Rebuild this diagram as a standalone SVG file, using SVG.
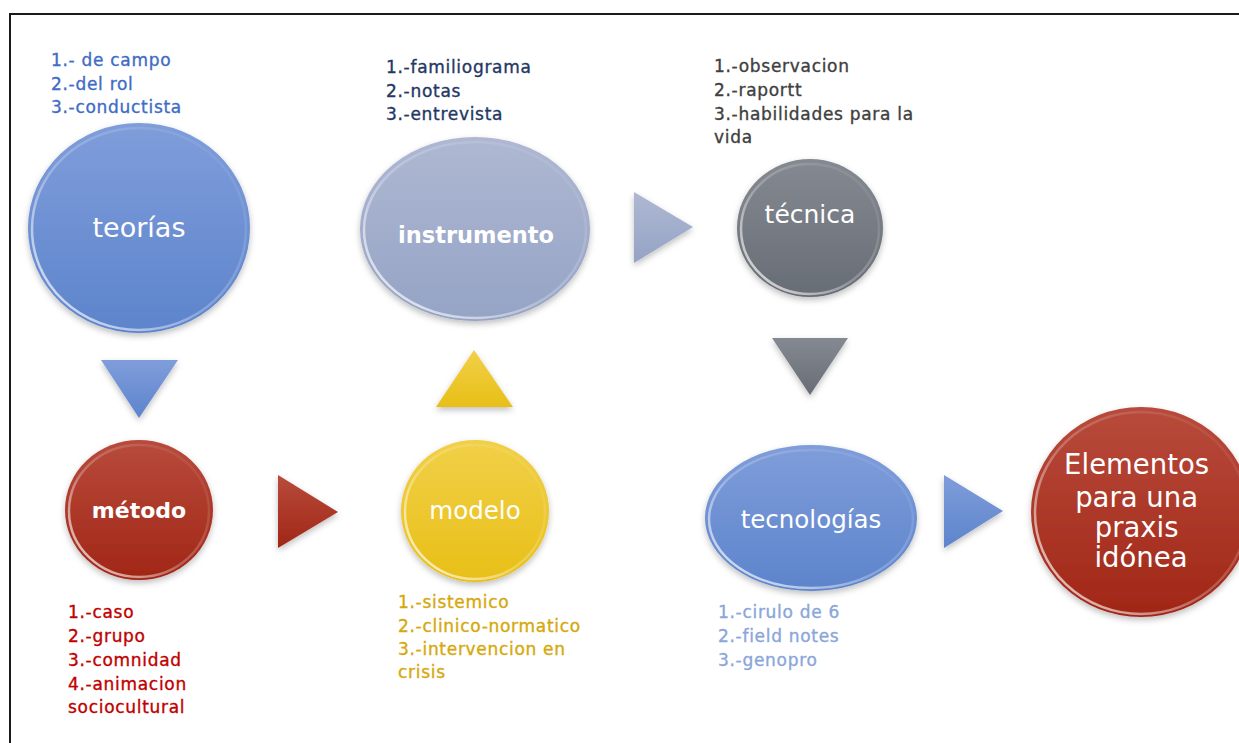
<svg xmlns="http://www.w3.org/2000/svg" width="1239" height="743" viewBox="0 0 1239 743">
<style>
  .lbl { font-family: "DejaVu Sans", Verdana, sans-serif; font-size: 17px; letter-spacing: 0.7px; stroke-width: 0.35px; }
  .node-txt { font-family: "DejaVu Sans", Verdana, sans-serif; fill: #ffffff; text-anchor: middle; }
  .shine { fill: none; stroke: url(#gShine); stroke-width: 2.5; }
  .blue-l { fill: #3F6CC4; stroke: #3F6CC4; }
  .navy-l { fill: #1F3864; stroke: #1F3864; }
  .gray-l { fill: #404040; stroke: #404040; }
  .red-l { fill: #C00000; stroke: #C00000; }
  .gold-l { fill: #D6A80C; stroke: #D6A80C; }
  .lblue-l { fill: #8AA6DA; stroke: #8AA6DA; }
</style>
<defs>
  <linearGradient id="gBlue" x1="0" y1="0" x2="0" y2="1">
    <stop offset="0" stop-color="#7F9DDA"/>
    <stop offset="1" stop-color="#5D84CC"/>
  </linearGradient>
  <linearGradient id="gSlate" x1="0" y1="0" x2="0" y2="1">
    <stop offset="0" stop-color="#AEB8D2"/>
    <stop offset="1" stop-color="#95A3C5"/>
  </linearGradient>
  <linearGradient id="gGray" x1="0" y1="0" x2="0" y2="1">
    <stop offset="0" stop-color="#858A92"/>
    <stop offset="1" stop-color="#676C75"/>
  </linearGradient>
  <linearGradient id="gRed" x1="0" y1="0" x2="0" y2="1">
    <stop offset="0" stop-color="#B84B3C"/>
    <stop offset="1" stop-color="#A12616"/>
  </linearGradient>
  <linearGradient id="gGold" x1="0" y1="0" x2="0" y2="1">
    <stop offset="0" stop-color="#F1D048"/>
    <stop offset="1" stop-color="#E8BF17"/>
  </linearGradient>
  <linearGradient id="gShine" x1="0" y1="1" x2="1" y2="0">
    <stop offset="0" stop-color="#ffffff" stop-opacity="0.85"/>
    <stop offset="0.45" stop-color="#ffffff" stop-opacity="0.25"/>
    <stop offset="1" stop-color="#ffffff" stop-opacity="0"/>
  </linearGradient>
  <filter id="shadow" x="-20%" y="-20%" width="140%" height="140%">
    <feDropShadow dx="0" dy="3" stdDeviation="3" flood-color="#000000" flood-opacity="0.25"/>
  </filter>
</defs>

<rect x="10" y="14" width="1260" height="760" fill="none" stroke="#1a1a1a" stroke-width="2"/>

<g id="connectors" filter="url(#shadow)">
  <polygon points="101,360 178,360 139,418" fill="url(#gBlue)"/>
  <polygon points="278,475 278,548 338,512" fill="url(#gRed)"/>
  <polygon points="474,350 513,407 436,407" fill="url(#gGold)"/>
  <polygon points="634,192 634,263 693,227" fill="url(#gSlate)"/>
  <polygon points="772,338 848,338 810,395" fill="url(#gGray)"/>
  <polygon points="944,475 944,548 1003,511" fill="url(#gBlue)"/>
</g>

<g id="teorias">
  <text class="lbl blue-l" x="51" y="66">1.- de campo</text>
  <text class="lbl blue-l" x="51" y="90">2.-del rol</text>
  <text class="lbl blue-l" x="51" y="113">3.-conductista</text>
  <ellipse cx="139" cy="228" rx="111" ry="105" fill="url(#gBlue)" filter="url(#shadow)"/>
  <ellipse class="shine" cx="139" cy="229" rx="107" ry="101"/>
  <text class="node-txt" x="139" y="237" font-size="27">teorías</text>
</g>

<g id="instrumento">
  <text class="lbl navy-l" x="386" y="73">1.-familiograma</text>
  <text class="lbl navy-l" x="386" y="97">2.-notas</text>
  <text class="lbl navy-l" x="386" y="120">3.-entrevista</text>
  <ellipse cx="475" cy="229" rx="115" ry="92" fill="url(#gSlate)" filter="url(#shadow)"/>
  <ellipse class="shine" cx="475" cy="230" rx="111" ry="88"/>
  <text class="node-txt" x="476" y="243" font-size="22.5" font-weight="bold">instrumento</text>
</g>

<g id="tecnica">
  <text class="lbl gray-l" x="714" y="72">1.-observacion</text>
  <text class="lbl gray-l" x="714" y="96">2.-raportt</text>
  <text class="lbl gray-l" x="714" y="120">3.-habilidades para la</text>
  <text class="lbl gray-l" x="714" y="143">vida</text>
  <ellipse cx="810" cy="228" rx="73" ry="69" fill="url(#gGray)" filter="url(#shadow)"/>
  <ellipse class="shine" cx="810" cy="229" rx="69" ry="65"/>
  <text class="node-txt" x="810" y="223" font-size="25">técnica</text>
</g>

<g id="metodo">
  <ellipse cx="139" cy="510" rx="74" ry="70" fill="url(#gRed)" filter="url(#shadow)"/>
  <ellipse class="shine" cx="139" cy="511" rx="70" ry="66"/>
  <text class="node-txt" x="139" y="518" font-size="22" font-weight="bold">método</text>
  <text class="lbl red-l" x="68" y="618">1.-caso</text>
  <text class="lbl red-l" x="68" y="642">2.-grupo</text>
  <text class="lbl red-l" x="68" y="666">3.-comnidad</text>
  <text class="lbl red-l" x="68" y="690">4.-animacion</text>
  <text class="lbl red-l" x="68" y="713">sociocultural</text>
</g>

<g id="modelo">
  <ellipse cx="475" cy="511" rx="74" ry="71" fill="url(#gGold)" filter="url(#shadow)"/>
  <ellipse class="shine" cx="475" cy="512" rx="70" ry="67"/>
  <text class="node-txt" x="475" y="519" font-size="24.5">modelo</text>
  <text class="lbl gold-l" x="398" y="608">1.-sistemico</text>
  <text class="lbl gold-l" x="398" y="632">2.-clinico-normatico</text>
  <text class="lbl gold-l" x="398" y="655">3.-intervencion en</text>
  <text class="lbl gold-l" x="398" y="678">crisis</text>
</g>

<g id="tecnologias">
  <ellipse cx="811" cy="518" rx="106" ry="73" fill="url(#gBlue)" filter="url(#shadow)"/>
  <ellipse class="shine" cx="811" cy="519" rx="102" ry="69"/>
  <text class="node-txt" x="811" y="528" font-size="24.5">tecnologías</text>
  <text class="lbl lblue-l" x="718" y="618">1.-cirulo de 6</text>
  <text class="lbl lblue-l" x="718" y="642">2.-field notes</text>
  <text class="lbl lblue-l" x="718" y="666">3.-genopro</text>
</g>

<g id="elementos">
  <ellipse cx="1141" cy="512" rx="110" ry="105" fill="url(#gRed)" filter="url(#shadow)"/>
  <ellipse class="shine" cx="1141" cy="513" rx="106" ry="101"/>
  <text class="node-txt" x="1141" font-size="27.5">
    <tspan x="1141" y="474">Elementos</tspan>
    <tspan x="1141" y="507">para una</tspan>
    <tspan x="1141" y="537">praxis</tspan>
    <tspan x="1141" y="567">idónea</tspan>
  </text>
</g>
</svg>
